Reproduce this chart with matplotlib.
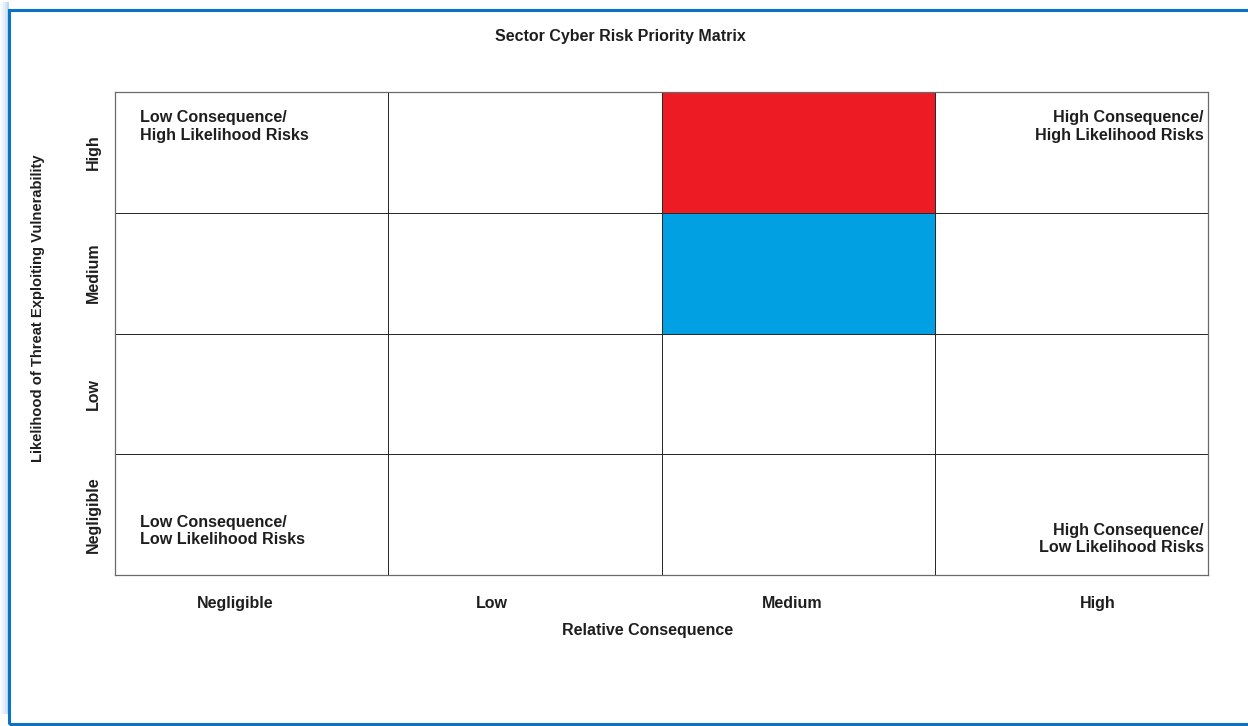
import numpy as np
import matplotlib.pyplot as plt
from matplotlib.colors import ListedColormap
from matplotlib.patches import Rectangle

plt.rcParams["font.family"] = ["Liberation Sans", "DejaVu Sans"]
plt.rcParams["font.weight"] = "bold"

consequence = ["Negligible", "Low", "Medium", "High"]
consequence_pos = [0.44, 1.38, 2.48, 3.595]
likelihood = ["Negligible", "Low", "Medium", "High"]

# risk level per cell: rows = likelihood (bottom to top), cols = consequence
risk_level = [
    [0, 0, 0, 0],
    [0, 0, 0, 0],
    [0, 0, 1, 0],
    [0, 0, 2, 0],
]
level_colors = ["white", "#00A0E3", "#ED1C24"]

corner_notes = {
    "top_left": "Low Consequence/\nHigh Likelihood Risks",
    "top_right": "High Consequence/\nHigh Likelihood Risks",
    "bottom_left": "Low Consequence/\nLow Likelihood Risks",
    "bottom_right": "High Consequence/\nLow Likelihood Risks",
}

W, H = 1248, 726
fig = plt.figure(figsize=(W / 100, H / 100), dpi=100)
ink = "#1E1E1E"

# page frame with a soft shadow on the left
for i, a in enumerate([0.06, 0.12, 0.2, 0.32]):
    fig.add_artist(Rectangle(((1 + i * 2) / W, 12 / H), 2 / W, 712 / H,
                             transform=fig.transFigure, facecolor="#2E86DE",
                             edgecolor="none", alpha=a))
fig.add_artist(Rectangle((9 / W, 2 / H), 1.2, (H - 12) / H,
                         transform=fig.transFigure, facecolor="none",
                         edgecolor="#0B72C6", lw=2.2, clip_on=False))

ax = fig.add_axes([115 / W, 1 - 575 / H, (1208 - 115) / W, (575 - 92) / H])
ax.pcolormesh(np.arange(5), np.arange(5), np.array(risk_level),
              cmap=ListedColormap(level_colors), vmin=-0.5, vmax=2.5,
              edgecolors="#2A2A2A", linewidth=0.6)
ax.set_xlim(0, 4)
ax.set_ylim(0, 4)
for s in ax.spines.values():
    s.set_color("#6A6A6A")
    s.set_linewidth(0.9)

ax.tick_params(length=0, labelsize=11.5)
ax.set_xticks(consequence_pos)
ax.set_xticklabels(consequence, fontweight="bold", color=ink)
ax.tick_params(axis="x", pad=15)
ax.set_yticks(np.arange(4) + 0.5)
ax.set_yticklabels(likelihood, rotation=90, va="center",
                   fontweight="bold", color=ink)
ax.tick_params(axis="y", pad=10)

note_kw = dict(fontsize=11.6, fontweight="bold", color=ink, linespacing=1.2)
ax.text(0.09, 3.85, corner_notes["top_left"], ha="left", va="top", **note_kw)
ax.text(3.985, 3.85, corner_notes["top_right"], ha="right", va="top", **note_kw)
ax.text(0.09, 0.23, corner_notes["bottom_left"], ha="left", va="bottom", **note_kw)
ax.text(3.985, 0.165, corner_notes["bottom_right"], ha="right", va="bottom", **note_kw)

fig.text(620 / W, 1 - 37 / H, "Sector Cyber Risk Priority Matrix",
         ha="center", va="center", fontsize=11.5, fontweight="bold", color=ink)
fig.text(648 / W, 1 - 630 / H, "Relative Consequence",
         ha="center", va="center", fontsize=11.5, fontweight="bold", color=ink)
fig.text(38 / W, 1 - 308 / H, "Likelihood of Threat Exploiting Vulnerability",
         ha="center", va="center", rotation=90, fontsize=10.6,
         fontweight="bold", color=ink)

fig.savefig("out.png", dpi=100)
